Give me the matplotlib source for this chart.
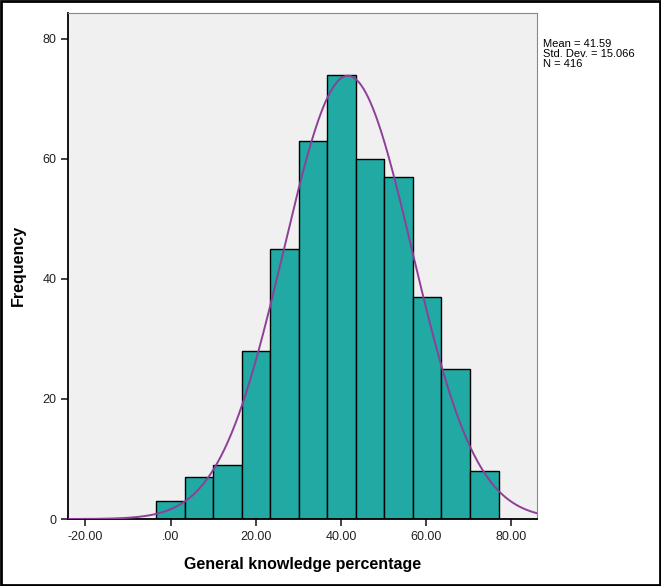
import numpy as np
import matplotlib
matplotlib.use("Agg")
import matplotlib.pyplot as plt
from matplotlib.ticker import FuncFormatter
from matplotlib.patches import Rectangle

plt.rcParams['font.family'] = ['Liberation Sans', 'DejaVu Sans']

# histogram
bin_start = -3.45
bin_width = 6.7
counts = [3, 7, 9, 28, 45, 63, 74, 60, 57, 37, 25, 8]
mean = 41.59
sd = 15.066
n = 416

edges = bin_start + bin_width * np.arange(len(counts) + 1)

fig = plt.figure(figsize=(6.61, 5.86), dpi=100)
ax = fig.add_axes([0.1035, 0.1143, 0.709, 0.864])
ax.set_facecolor('#f0f0f0')

ax.bar(edges[:-1], counts, width=bin_width, align='edge',
       color='#20aaa3', edgecolor='black', linewidth=1.0, zorder=2)

xs = np.linspace(-24, 86, 400)
ys = n * bin_width * np.exp(-0.5 * ((xs - mean) / sd) ** 2) / (sd * np.sqrt(2 * np.pi))
ax.plot(xs, ys, color='#8e3f98', linewidth=1.4, zorder=3)

ax.set_xlim(-24, 86)
ax.set_ylim(0, 84.3)
ax.set_xticks([-20, 0, 20, 40, 60, 80])
ax.set_yticks([0, 20, 40, 60, 80])
ax.xaxis.set_major_formatter(FuncFormatter(
    lambda v, p: '.00' if v == 0 else '%.2f' % v))
ax.tick_params(labelsize=9, length=5, width=1.2, colors='#222222')

for side in ['top', 'right']:
    ax.spines[side].set_color('#888888')
    ax.spines[side].set_linewidth(0.8)
for side in ['left', 'bottom']:
    ax.spines[side].set_linewidth(1.3)

ax.set_xlabel('General knowledge percentage', fontsize=11.5, fontweight='bold', labelpad=10)
ax.set_ylabel('Frequency', fontsize=11.5, fontweight='bold', labelpad=12)

fig.text(0.821, 0.934, 'Mean = 41.59\nStd. Dev. = 15.066\nN = 416',
         fontsize=8, va='top', ha='left', linespacing=1.0)

fig.patches.append(Rectangle((0.001, 0.001), 0.998, 0.998, transform=fig.transFigure,
                             fill=False, edgecolor='black', linewidth=2))

fig.savefig('out.png', dpi=100)
